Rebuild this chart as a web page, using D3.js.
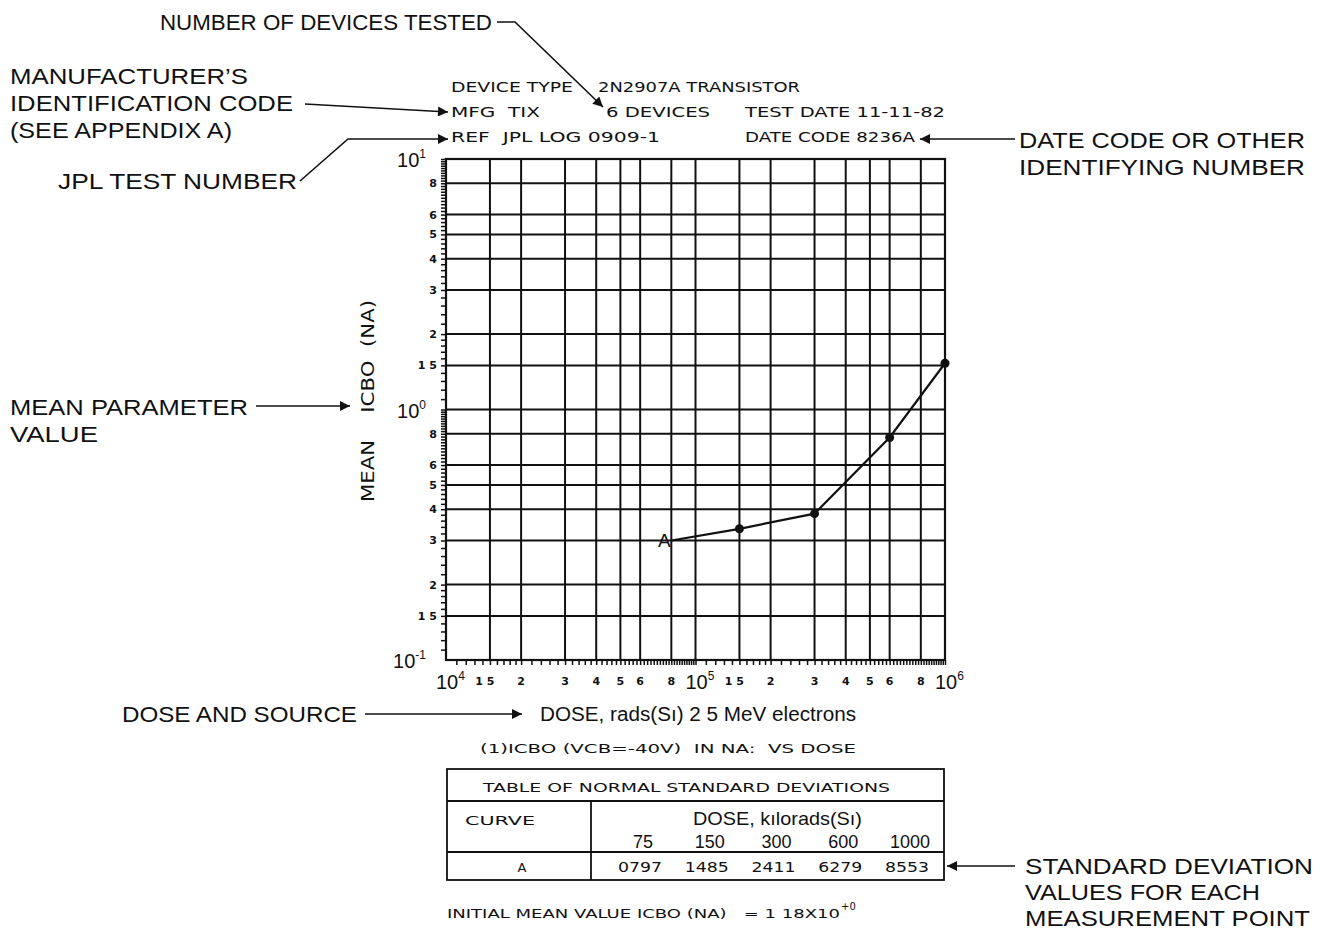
<!DOCTYPE html>
<html><head><meta charset="utf-8">
<script src="https://cdn.jsdelivr.net/npm/d3@7"></script>
<style>
body{margin:0;background:#fff;}
svg{display:block;}
.plot{font-family:"DejaVu Sans",sans-serif;fill:#111;}
.ann{font-family:"Liberation Sans",Arial,sans-serif;fill:#111;}
</style></head>
<body><svg id="c" width="1327" height="931"></svg>
<script>
// ---- data ----
const doses = [75e3, 150e3, 300e3, 600e3, 1000e3];          // rads(Si)
const meanIcbo = [0.30, 0.334, 0.384, 0.773, 1.53];          // nA
const curveName = "A";
const tableDoses = ["75", "150", "300", "600", "1000"];       // kilorads(Si)
const stdDevs = ["0797", "1485", "2411", "6279", "8553"];
const minorMults = [1.5, 2, 3, 4, 5, 6, 8];
const minorLabels = ["1 5", "2", "3", "4", "5", "6", "8"];
const xDecades = [1e4, 1e5, 1e6];
const xDecadeExp = ["4", "5", "6"];
const yDecades = [0.1, 1, 10];
const yDecadeExp = ["-1", "0", "1"];

const svg = d3.select("#c");
const L = 446, R = 945, T = 159, B = 660;
const x = d3.scaleLog().domain([1e4, 1e6]).range([L, R]);
const y = d3.scaleLog().domain([0.1, 10]).range([B, T]);

// text helper: fixed width via textLength
function txt(cls, x0, y0, s, size, w, anchor) {
  const t = svg.append("text").attr("class", cls).attr("x", x0).attr("y", y0)
    .attr("font-size", size).attr("xml:space", "preserve").attr("text-anchor", anchor || "start").text(s);
  if (w) t.attr("textLength", w).attr("lengthAdjust", "spacingAndGlyphs");
  return t;
}

// arrow marker
svg.append("defs").append("marker").attr("id", "ah").attr("viewBox", "0 0 10 10")
  .attr("refX", 10).attr("refY", 5).attr("markerWidth", 20).attr("markerHeight", 10)
  .attr("markerUnits", "userSpaceOnUse").attr("orient", "auto")
  .append("path").attr("d", "M0,0 L10,5 L0,10 Z").attr("fill", "#111");

// grid values
const xGrid = [], yGrid = [];
[1e4, 1e5].forEach(d => minorMults.forEach(m => xGrid.push(d * m)));
xGrid.push(1e5);
[0.1, 1].forEach(d => minorMults.forEach(m => yGrid.push(d * m)));
yGrid.push(1);

const g = svg.append("g");
g.selectAll(".vg").data(xGrid).join("line").attr("x1", d => x(d)).attr("x2", d => x(d))
  .attr("y1", T).attr("y2", B).attr("stroke", "#111").attr("stroke-width", 2);
g.selectAll(".hg").data(yGrid).join("line").attr("y1", d => y(d)).attr("y2", d => y(d))
  .attr("x1", L).attr("x2", R).attr("stroke", "#111").attr("stroke-width", 2);
g.append("rect").attr("x", L).attr("y", T).attr("width", R - L).attr("height", B - T)
  .attr("fill", "none").attr("stroke", "#111").attr("stroke-width", 2.2);

// fine ticks
function fineTicks(dec0) {
  const out = [];
  for (let k = 0; k < 2; k++) {
    const base = dec0 * Math.pow(10, k);
    for (let v = 1.1; v < 2.001; v += 0.1) out.push(base * v);
    for (let v = 2.2; v < 10.001; v += 0.2) out.push(base * v);
  }
  return out;
}
svg.append("g").attr("transform", `translate(${L},0)`)
  .call(d3.axisLeft(y).tickValues(fineTicks(0.1)).tickSize(5).tickFormat(""))
  .call(s => { s.select(".domain").remove(); s.selectAll("line").attr("stroke", "#111").attr("stroke-width", 1.5); });
svg.append("g").attr("transform", `translate(0,${B})`)
  .call(d3.axisBottom(x).tickValues(fineTicks(1e4)).tickSize(5).tickFormat(""))
  .call(s => { s.select(".domain").remove(); s.selectAll("line").attr("stroke", "#111").attr("stroke-width", 1.5); });

// y tick labels
const yMinor = [];
[0.1, 1].forEach(d => minorMults.forEach((m, i) => yMinor.push({v: d * m, t: minorLabels[i]})));
svg.selectAll(".yl").data(yMinor).join("text").attr("class", "plot")
  .attr("x", L - 9).attr("y", d => y(d.v) + 4).attr("text-anchor", "end")
  .attr("font-size", 11).attr("font-weight", "bold").attr("xml:space", "preserve").text(d => d.t);
yDecades.forEach((d, i) => {
  const t = svg.append("text").attr("class", "ann").attr("x", L - 20).attr("y", y(d) + 8)
    .attr("text-anchor", "end").attr("font-size", 20);
  t.append("tspan").text("10");
  t.append("tspan").attr("dy", -9).attr("font-size", 12).text(yDecadeExp[i]);
});
// x tick labels
const xMinor = [];
[1e4, 1e5].forEach(d => minorMults.forEach((m, i) => xMinor.push({v: d * m, t: minorLabels[i]})));
svg.selectAll(".xl").data(xMinor).join("text").attr("class", "plot")
  .attr("x", d => x(d.v) + (d.t === "1 5" ? -5 : 0)).attr("y", B + 25).attr("text-anchor", "middle")
  .attr("font-size", 11).attr("font-weight", "bold").attr("xml:space", "preserve").text(d => d.t);
xDecades.forEach((d, i) => {
  const t = svg.append("text").attr("class", "ann").attr("x", x(d) - 10).attr("y", B + 29)
    .attr("font-size", 20);
  t.append("tspan").text("10");
  t.append("tspan").attr("dy", -9).attr("font-size", 12).text(xDecadeExp[i]);
});

// y axis title
svg.append("text").attr("class", "plot").attr("transform", `translate(374,401) rotate(-90)`)
  .attr("text-anchor", "middle").attr("font-size", 17).attr("xml:space", "preserve")
  .attr("textLength", 202).attr("lengthAdjust", "spacingAndGlyphs")
  .text("MEAN    ICBO  (NA)");

// curve
const pts = doses.map((d, i) => [x(d), y(meanIcbo[i])]);
svg.append("path").attr("d", d3.line()(pts.map((p, i) => i === 0 ? [p[0] + 7, p[1]] : p)))
  .attr("fill", "none").attr("stroke", "#111").attr("stroke-width", 2.2);
svg.selectAll(".pt").data(pts.slice(1)).join("circle").attr("cx", d => d[0]).attr("cy", d => d[1])
  .attr("r", 4.5).attr("fill", "#111");
txt("ann", pts[0][0], pts[0][1] + 7, curveName, 19, null, "middle");

// header (plotter font)
txt("plot", 451, 92, "DEVICE TYPE", 14, 122);
txt("plot", 598, 92, "2N2907A TRANSISTOR", 14, 202);
txt("plot", 451, 117, "MFG  TIX", 14, 89);
txt("plot", 606, 117, "6 DEVICES", 14, 104);
txt("plot", 745, 117, "TEST DATE 11-11-82", 14, 200);
txt("plot", 451, 142, "REF  JPL LOG 0909-1", 14, 209);
txt("plot", 745, 142, "DATE CODE 8236A", 14, 170);

// annotations
function arrow(d) {
  svg.append("path").attr("d", d).attr("fill", "none").attr("stroke", "#111").attr("stroke-width", 1.6)
    .attr("marker-end", "url(#ah)");
}
txt("ann", 160, 30, "NUMBER OF DEVICES TESTED", 22, 332);
arrow("M497,22 L515,22 L603,107");
txt("ann", 10, 84, "MANUFACTURER’S", 22, 238);
txt("ann", 10, 111, "IDENTIFICATION CODE", 22, 283);
txt("ann", 10, 138, "(SEE APPENDIX A)", 22, 222);
arrow("M305,104 L448,112");
txt("ann", 58, 189, "JPL TEST NUMBER", 22, 239);
arrow("M300,181 L348,139 L448,139");
txt("ann", 1019, 148, "DATE CODE OR OTHER", 22, 286);
txt("ann", 1019, 175, "IDENTIFYING NUMBER", 22, 286);
arrow("M1015,139 L920,139");
txt("ann", 10, 415, "MEAN PARAMETER", 22, 238);
txt("ann", 10, 442, "VALUE", 22, 88);
arrow("M256,406 L350,406");
txt("ann", 122, 722, "DOSE AND SOURCE", 22, 235);
arrow("M365,714 L522,714");
txt("ann", 540, 721, "DOSE, rads(Sı) 2 5 MeV electrons", 20, 316);
txt("plot", 480, 753, "(1)ICBO (VCB=-40V)  IN NA:  VS DOSE", 13, 376);

// table
const tb = {l: 447, r: 944, t: 769, r1: 801, r2: 852, b: 880, c: 591};
svg.append("rect").attr("x", tb.l).attr("y", tb.t).attr("width", tb.r - tb.l).attr("height", tb.b - tb.t)
  .attr("fill", "none").attr("stroke", "#111").attr("stroke-width", 1.8);
[[tb.l, tb.r1, tb.r, tb.r1], [tb.l, tb.r2, tb.r, tb.r2], [tb.c, tb.r1, tb.c, tb.b]].forEach(a =>
  svg.append("line").attr("x1", a[0]).attr("y1", a[1]).attr("x2", a[2]).attr("y2", a[3])
    .attr("stroke", "#111").attr("stroke-width", 1.8));
txt("plot", 483, 792, "TABLE OF NORMAL STANDARD DEVIATIONS", 13, 407);
txt("plot", 465, 825, "CURVE", 13, 70);
txt("ann", 693, 825, "DOSE, kılorads(Sı)", 19, 169);
const colX = d3.scalePoint().domain(tableDoses).range([643, 910]);
svg.selectAll(".td").data(tableDoses).join("text").attr("class", "ann").attr("x", d => colX(d))
  .attr("y", 848).attr("text-anchor", "middle").attr("font-size", 18).text(d => d);
txt("plot", 522, 872, curveName, 13, null, "middle");
svg.selectAll(".sd").data(stdDevs).join("text").attr("class", "plot").attr("x", (d, i) => colX(tableDoses[i]) - 3)
  .attr("y", 872).attr("text-anchor", "middle").attr("font-size", 14)
  .attr("textLength", 44).attr("lengthAdjust", "spacingAndGlyphs").text(d => d);
arrow("M1015,866 L947,866");
txt("ann", 1025, 874, "STANDARD DEVIATION", 22, 288);
txt("ann", 1025, 900, "VALUES FOR EACH", 22, 235);
txt("ann", 1025, 926, "MEASUREMENT POINT", 22, 285);
txt("plot", 447, 918, "INITIAL MEAN VALUE ICBO (NA)   = 1 18X10", 12, 393);
svg.append("text").attr("class", "plot").attr("x", 841).attr("y", 910).attr("font-size", 10).text("+0");
</script></body></html>
